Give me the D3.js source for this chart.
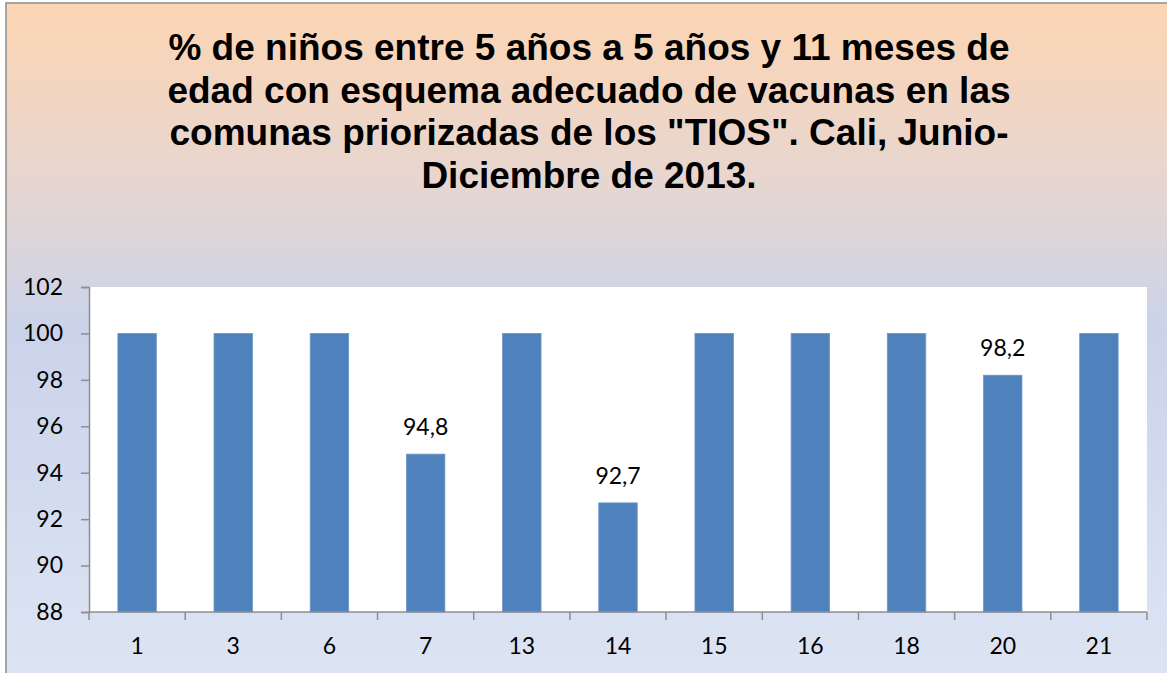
<!DOCTYPE html>
<html>
<head>
<meta charset="utf-8">
<script src="https://cdn.jsdelivr.net/npm/d3@7"></script>
<style>
  html, body { margin: 0; padding: 0; background: #fff; }
  svg { display: block; }
  .title { font-family: "Liberation Sans", Arial, Helvetica, sans-serif; font-weight: bold; }
  .lbl { font-family: Lato, "Open Sans", sans-serif; }
</style>
</head>
<body>
<svg id="chart" width="1167" height="673"></svg>
<script>
// Comunas and their vaccination coverage (%)
const comunas = ["1", "3", "6", "7", "13", "14", "15", "16", "18", "20", "21"];
const coverage = [100, 100, 100, 94.8, 100, 92.7, 100, 100, 100, 98.2, 100];
const labelled = ["7", "14", "20"];           // bars whose value is printed
const yTicks = [88, 90, 92, 94, 96, 98, 100, 102];
const titleLines = [
  "% de niños entre 5 años a 5 años y 11 meses de",
  "edad con esquema adecuado de vacunas en las",
  "comunas priorizadas de los \"TIOS\". Cali, Junio-",
  "Diciembre de 2013."
];

const W = 1167, H = 673;
const plot = { left: 89, right: 1147, top: 287, bottom: 612 };

const svg = d3.select("#chart");

// Background gradient of the chart area
const defs = svg.append("defs");
const grad = defs.append("linearGradient")
  .attr("id", "bg").attr("x1", 0).attr("y1", 0).attr("x2", 0).attr("y2", 1);
grad.append("stop").attr("offset", "0%").attr("stop-color", "#FDD5B3");
grad.append("stop").attr("offset", "27%").attr("stop-color", "#E6D6D1");
grad.append("stop").attr("offset", "48%").attr("stop-color", "#CAD3EA");
grad.append("stop").attr("offset", "100%").attr("stop-color", "#DDE5F4");

svg.append("rect")
  .attr("x", 6).attr("y", 3)
  .attr("width", W + 10).attr("height", H + 10)
  .attr("fill", "url(#bg)")
  .attr("stroke", "#8C8C8C").attr("stroke-width", 1.5);

// Title
const title = svg.append("text")
  .attr("class", "title")
  .attr("text-anchor", "middle")
  .attr("font-size", 37)
  .attr("fill", "#000");
titleLines.forEach((line, i) => {
  title.append("tspan")
    .attr("x", 589)
    .attr("y", 60 + i * 42.7)
    .text(line);
});

// Plot area
svg.append("rect")
  .attr("x", plot.left).attr("y", plot.top)
  .attr("width", plot.right - plot.left).attr("height", plot.bottom - plot.top)
  .attr("fill", "#fff");

const x = d3.scaleBand()
  .domain(comunas)
  .range([plot.left, plot.right])
  .paddingInner(0.6)
  .paddingOuter(0.3);

const y = d3.scaleLinear()
  .domain([88, 102])
  .range([plot.bottom, plot.top]);

const data = comunas.map((c, i) => ({ comuna: c, value: coverage[i] }));

// Bars
svg.append("g")
  .selectAll("rect")
  .data(data)
  .join("rect")
  .attr("x", d => x(d.comuna))
  .attr("y", d => y(d.value))
  .attr("width", x.bandwidth())
  .attr("height", d => y(88) - y(d.value))
  .attr("fill", "#4F81BD")
  .attr("stroke", "#6E96C8")
  .attr("stroke-width", 0.8);

// Value labels
svg.append("g")
  .selectAll("text")
  .data(data.filter(d => labelled.includes(d.comuna)))
  .join("text")
  .attr("class", "lbl")
  .attr("x", d => x(d.comuna) + x.bandwidth() / 2)
  .attr("y", d => y(d.value) - 19)
  .attr("text-anchor", "middle")
  .attr("font-size", 23)
  .attr("fill", "#000")
  .text(d => String(d.value).replace(".", ","));

const axisColor = "#8E8E8E";

// Y axis
const yAxis = svg.append("g")
  .attr("transform", `translate(${plot.left},0)`)
  .call(d3.axisLeft(y).tickValues(yTicks).tickSize(8).tickPadding(18).tickFormat(d3.format("d")));
yAxis.select(".domain").attr("stroke", axisColor).attr("stroke-width", 1.5);
yAxis.selectAll(".tick line").attr("stroke", axisColor).attr("stroke-width", 1.5);
yAxis.selectAll(".tick text")
  .attr("class", "lbl")
  .attr("font-size", 23)
  .attr("fill", "#000");

// X axis: category labels centred, tick marks on band boundaries
const xAxis = svg.append("g")
  .attr("transform", `translate(0,${plot.bottom})`);
xAxis.append("line")
  .attr("x1", plot.left).attr("x2", plot.right)
  .attr("y1", 0).attr("y2", 0)
  .attr("stroke", axisColor).attr("stroke-width", 1.5);
const step = x.step();
const boundaries = comunas.map(c => x(c) - step * 0.3).concat([plot.right]);
xAxis.selectAll(".xtick")
  .data(boundaries)
  .join("line")
  .attr("class", "xtick")
  .attr("x1", d => d).attr("x2", d => d)
  .attr("y1", 0).attr("y2", 8)
  .attr("stroke", axisColor).attr("stroke-width", 1.5);
xAxis.selectAll(".xlabel")
  .data(comunas)
  .join("text")
  .attr("class", "xlabel lbl")
  .attr("x", d => x(d) + x.bandwidth() / 2)
  .attr("y", 42)
  .attr("text-anchor", "middle")
  .attr("font-size", 23)
  .attr("fill", "#000")
  .text(d => d);
</script>
</body>
</html>
